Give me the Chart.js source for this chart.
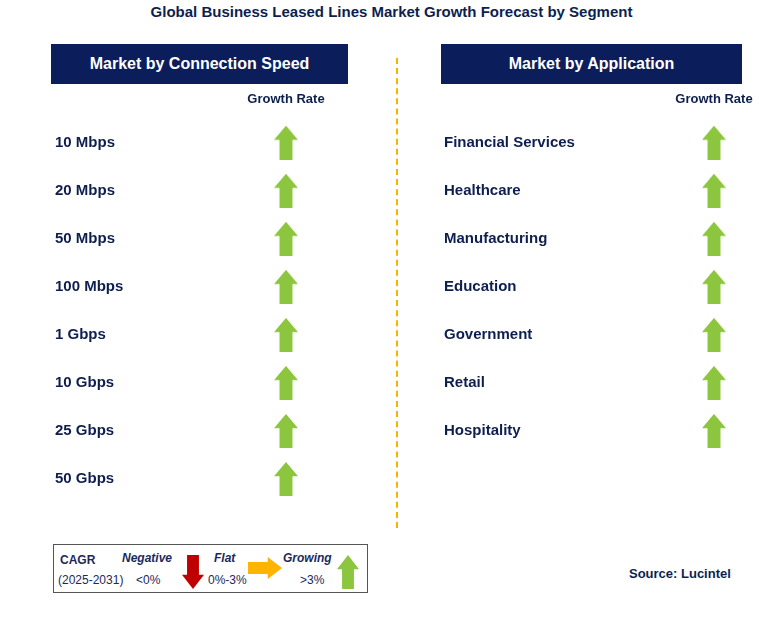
<!DOCTYPE html>
<html><head><meta charset="utf-8">
<script src="https://cdn.jsdelivr.net/npm/chart.js@4"></script>
<style>
body{margin:0;width:783px;height:617px;position:relative;background:#fff;font-family:Arial,"Liberation Sans",sans-serif;}
.abs{position:absolute}
.title{left:0;width:783px;top:3px;text-align:center;font-weight:bold;font-size:15px;color:#0d1f4f}
.hdr{background:#0b1e5b;color:#fff;font-weight:bold;font-size:16px;text-align:center;line-height:40px;height:40px;top:44px}
.leg{left:53px;top:544px;width:313px;height:47px;border:1px solid #555;font-size:12px;color:#1a2a5a}
.leg span{position:absolute}
</style></head><body>
<div class="abs title">Global Business Leased Lines Market Growth Forecast by Segment</div>
<div class="abs hdr" style="left:51px;width:297px">Market by Connection Speed</div>
<div class="abs hdr" style="left:441px;width:301px">Market by Application</div>
<div class="abs" style="left:396px;top:58px;height:470px;border-left:2px dashed #f5b400"></div>
<div class="abs" style="left:0;top:0;width:350px;height:540px"><canvas id="c1"></canvas></div>
<div class="abs" style="left:390px;top:0;width:393px;height:540px"><canvas id="c2"></canvas></div>
<div class="abs leg">
<span style="left:6px;top:8px;font-weight:bold">CAGR</span>
<span style="left:4px;top:28px">(2025-2031)</span>
<span style="left:68px;top:6px;font-weight:bold;font-style:italic">Negative</span>
<span style="left:82px;top:28px">&lt;0%</span>
<span style="left:160px;top:6px;font-weight:bold;font-style:italic">Flat</span>
<span style="left:154px;top:28px">0%-3%</span>
<span style="left:229px;top:6px;font-weight:bold;font-style:italic">Growing</span>
<span style="left:246px;top:28px">&gt;3%</span>
<canvas id="lr" class="abs" style="left:128px;top:10px" width="22" height="34"></canvas>
<canvas id="lo" class="abs" style="left:194px;top:12px" width="34" height="22"></canvas>
<canvas id="lg" class="abs" style="left:283px;top:10px" width="22" height="34"></canvas>
</div>
<div class="abs" style="left:629px;top:566px;font-weight:bold;font-size:13px;color:#0d1f4f">Source: Lucintel</div>
<script>
const speedCategories=['10 Mbps','20 Mbps','50 Mbps','100 Mbps','1 Gbps','10 Gbps','25 Gbps','50 Gbps'];
const speedGrowth=['Growing','Growing','Growing','Growing','Growing','Growing','Growing','Growing'];
const appCategories=['Financial Services','Healthcare','Manufacturing','Education','Government','Retail','Hospitality'];
const appGrowth=['Growing','Growing','Growing','Growing','Growing','Growing','Growing'];
const columnLabel=['Growth Rate'];

function arrow(c,dir,fill){
  const x=c.getContext('2d');const w=c.width,h=c.height;x.fillStyle=fill;x.beginPath();
  if(dir==='up'){x.moveTo(w/2,0);x.lineTo(w,h*0.42);x.lineTo(w*0.77,h*0.42);x.lineTo(w*0.77,h);x.lineTo(w*0.23,h);x.lineTo(w*0.23,h*0.42);x.lineTo(0,h*0.42);}
  else if(dir==='down'){x.moveTo(w/2,h);x.lineTo(w,h*0.58);x.lineTo(w*0.77,h*0.58);x.lineTo(w*0.77,0);x.lineTo(w*0.23,0);x.lineTo(w*0.23,h*0.58);x.lineTo(0,h*0.58);}
  else {x.moveTo(w,h/2);x.lineTo(w*0.58,0);x.lineTo(w*0.58,h*0.23);x.lineTo(0,h*0.23);x.lineTo(0,h*0.77);x.lineTo(w*0.58,h*0.77);x.lineTo(w*0.58,h);}
  x.closePath();x.fill();return c;
}
arrow(document.getElementById('lr'),'down','#c00000');
arrow(document.getElementById('lo'),'right','#ffb400');
arrow(document.getElementById('lg'),'up','#8cc63f');
const up=arrow(Object.assign(document.createElement('canvas'),{width:24,height:34}),'up','#8cc63f');

function make(id,cats,growth,padL,axisW,rows){
  const labels=cats.slice();while(labels.length<rows)labels.push('');
  new Chart(document.getElementById(id),{type:'line',
    data:{datasets:[{data:cats.map((c,i)=>({x:columnLabel[0],y:c,g:growth[i]})),showLine:false,pointStyle:up,pointRadius:12}]},
    options:{responsive:true,maintainAspectRatio:false,animation:false,
      layout:{padding:{left:padL,top:89,bottom:37,right:14}},
      plugins:{legend:{display:false},tooltip:{enabled:false}},
      scales:{
        x:{type:'category',labels:columnLabel,position:'top',grid:{display:false},border:{display:false},
           ticks:{color:'#0d1f4f',font:{family:'Arial',size:13,weight:'bold'}}},
        y:{type:'category',labels:labels,offset:true,grid:{display:false},border:{display:false},afterFit:s=>{s.width=axisW;},
           ticks:{color:'#0d1f4f',crossAlign:'far',font:{family:'Arial',size:15,weight:'bold'}}}
      }}});
}
make('c1',speedCategories,speedGrowth,55,231,8);
make('c2',appCategories,appGrowth,54,270,8);
</script></body></html>
